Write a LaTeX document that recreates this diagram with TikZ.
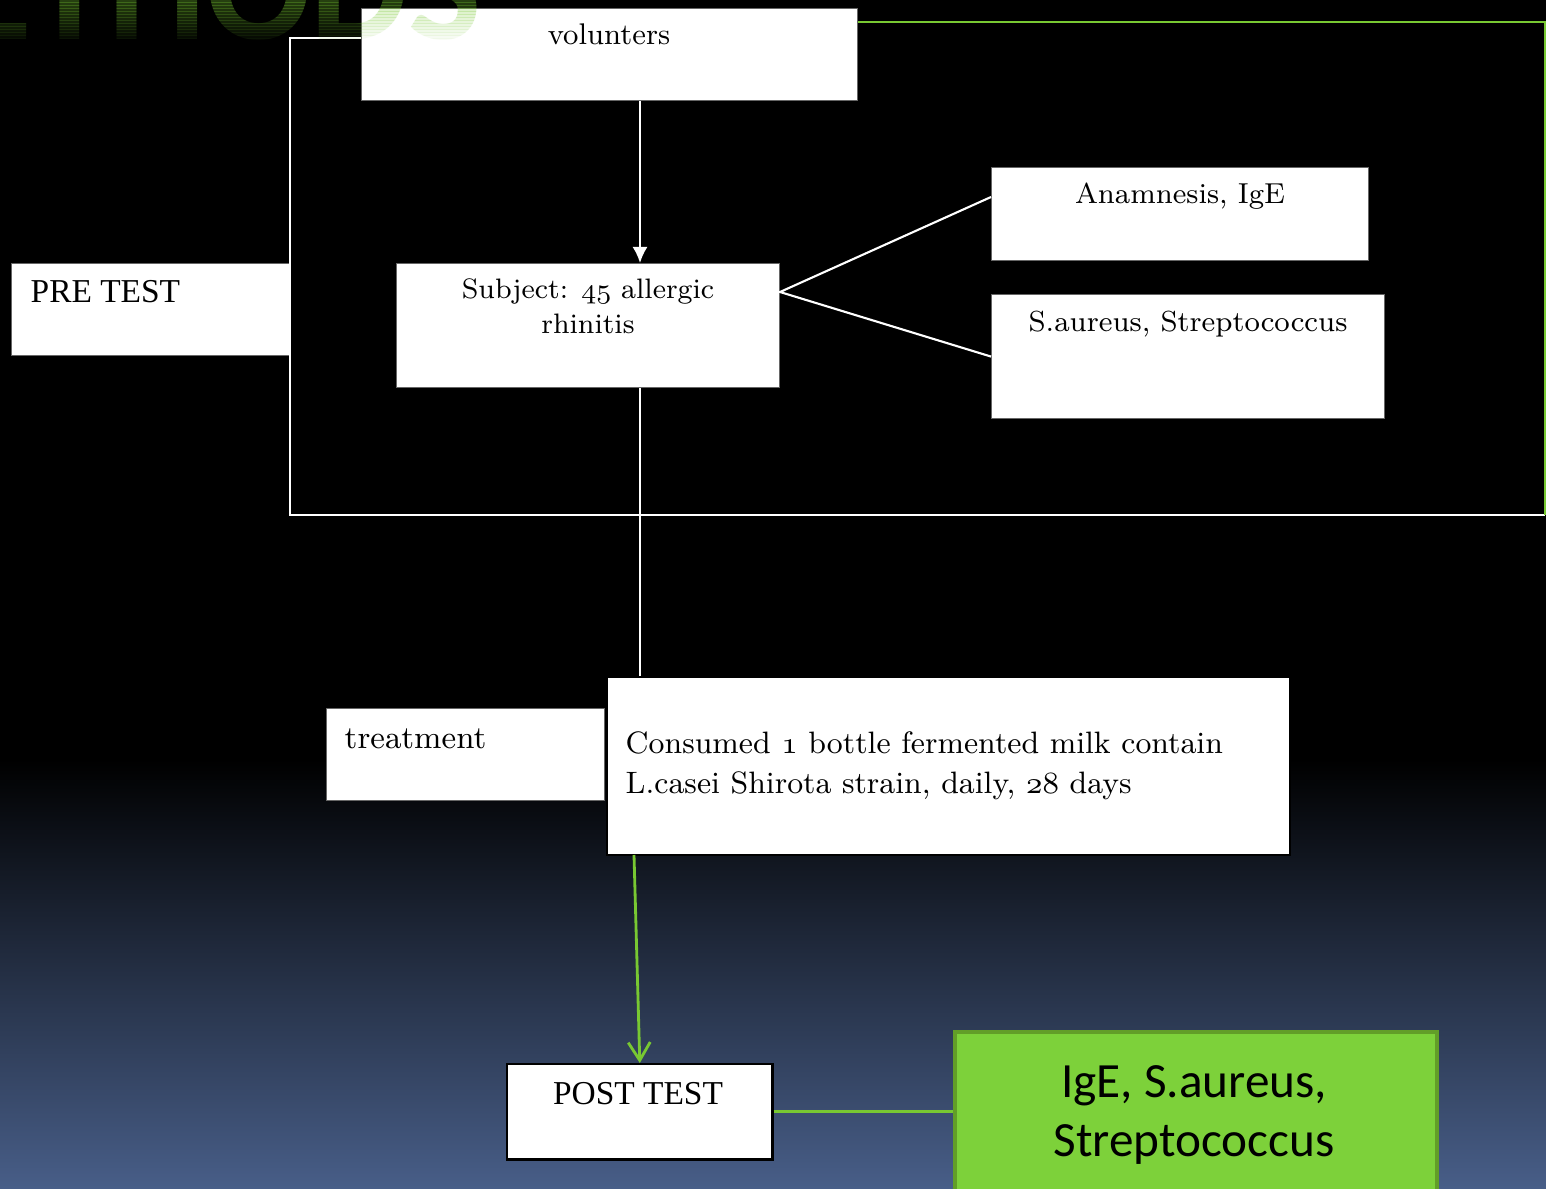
\RequirePackage{fix-cm}
\documentclass[tikz,border=0pt]{standalone}
\usepackage{fontspec}
\usepackage{tikz}
\usetikzlibrary{arrows.meta}
\newfontfamily\boxsans{Carlito}
\newfontfamily\headserif{Liberation Serif}
\definecolor{accgreen}{RGB}{125,209,58}
\definecolor{accdark}{RGB}{98,158,40}
\definecolor{linegreen}{RGB}{120,200,50}
\definecolor{bgbot}{RGB}{72,94,136}
\newcommand\onum[1]{$\mathnormal{#1}$}

\begin{document}
\begin{tikzpicture}[x=0.01cm,y=-0.01cm]
\tikzset{box/.style={draw=black!60,fill=white,line width=0.3pt,inner sep=0pt,anchor=north west},
txt/.style={inner sep=0pt,font=\fontsize{8.3}{11}\selectfont},
wline/.style={white,line width=0.6pt},
gline/.style={linegreen,line width=0.8pt}}
\useasboundingbox (0,0) rectangle (1546,1188);
% background
\fill[black] (0,0) rectangle (1546,760);
\shade[top color=black,bottom color=bgbot] (0,759) rectangle (1546,1188);

% pre test part
\node[box,minimum width=4.96cm,minimum height=0.92cm] (vol) at (361,8) {};
\node[txt,anchor=base,font=\fontsize{8.5}{11}\selectfont] (voltxt) at (609,45) {volunters};
\node[box,minimum width=2.79cm,minimum height=0.92cm] (pre) at (11,263) {};
\node[txt,anchor=base west,font=\headserif\fontsize{9.5}{11}\selectfont] (pretxt) at (30,302) {PRE TEST};
\node[box,minimum width=3.83cm,minimum height=1.24cm] (subj) at (396,263) {};
\node[txt,anchor=base,align=center,font=\fontsize{8}{9.7}\selectfont] (subjtxt) at (588,333) {Subject: \onum{45} allergic\\rhinitis};
\node[box,minimum width=3.77cm,minimum height=0.93cm] (anam) at (991,167) {};
\node[txt,anchor=base,font=\fontsize{8.2}{11}\selectfont] (anamtxt) at (1180,203) {Anamnesis, IgE};
\node[box,minimum width=3.93cm,minimum height=1.24cm] (saur) at (991,294) {};
\node[txt,anchor=base,font=\fontsize{8.25}{11}\selectfont] (saurtxt) at (1188,331) {S.aureus, Streptococcus};

% treatment part
\node[box,minimum width=2.78cm,minimum height=0.92cm] (treat) at (326,708) {};
\node[txt,anchor=base west,font=\fontsize{9.1}{11}\selectfont] (treattxt) at (344,748) {treatment};
\node[box,draw=black,line width=0.5pt,minimum width=6.83cm,minimum height=1.78cm] (cons) at (606,676) {};
\node[txt,anchor=base west,align=left,font=\fontsize{8.8}{11.1}\selectfont] (constxt) at (625,793)
{Consumed \onum{1} bottle fermented milk contain\\L.casei Shirota strain, daily, \onum{28} days};

% post test part
\node[box,draw=black,line width=0.7pt,minimum width=2.65cm,minimum height=0.95cm] (post) at (506,1063) {};
\node[txt,anchor=base,font=\headserif\fontsize{9.5}{11}\selectfont] (posttxt) at (638,1104) {POST TEST};
\node[box,draw=accdark,fill=accgreen,line width=1pt,minimum width=4.82cm,minimum height=1.8cm] (gbox) at (953,1030) {};
\node[txt,anchor=base,align=center,font=\boxsans\fontsize{14}{16.5}\selectfont] (gtxt) at (1194,1156) {IgE, S.aureus,\\Streptococcus};

% connectors
\coordinate (spine) at (640,0);
\coordinate (fork) at (780,292);
\coordinate (anamin) at (991,197);
\coordinate (frtl) at (290,38);
\coordinate (frbl) at (290,515);
\coordinate (frbr) at (1545,515);
\coordinate (frtr) at (1545,22);
\coordinate (garr) at (634,855);
\draw[wline,-{Latex[length=1.6mm,width=1.5mm]}] (vol.south -| spine) -- (subj.north -| spine);
\draw[wline] (anamin) -- (fork) -- (saur.west);
\draw[wline] (subj.south -| spine) -- (cons.north -| spine);
\draw[wline] (vol.west |- frtl) -- (frtl) -- (frbl) -- (frbr);
\draw[gline] (vol.north east |- frtr) -- (frtr) -- (frbr);
\draw[gline,-{Straight Barb[length=1.8mm,width=2.2mm]}] (garr) -- (post.north);
\draw[gline] (post.east) -- (post.east -| gbox.west);

% faded title
\foreach \i in {0,...,14} {
\pgfmathsetmacro\op{0.32*(1-\i/15)}
\begin{scope}
\clip (0,{3*\i}) rectangle (1546,{3*\i+3});
\node[inner sep=0pt,anchor=base east,text=linegreen,text opacity=\op,font=\boxsans\bfseries\fontsize{44}{44}\selectfont] (wm\i) at (482,40) {METHODS};
\end{scope}
}
\end{tikzpicture}
\end{document}
